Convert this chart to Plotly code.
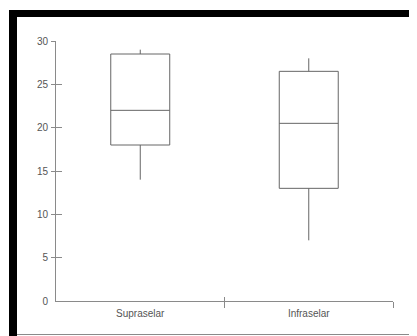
import plotly.graph_objects as go

categories = ["Supraselar", "Infraselar"]
lower_whisker = [14, 7]
q1_values = [18, 13]
median_values = [22, 20.5]
q3_values = [28.5, 26.5]
upper_whisker = [29, 28]
y_ticks = [0, 5, 10, 15, 20, 25, 30]
x_tick_bounds = [0.5, 1.5]

# the page body adds an 8px offset
OFF = 8
W, H = 417 - OFF, 336 - OFF
ml, mr, mt = 56 - OFF, 417 - 393, 41 - OFF
mb = H - (301 - OFF)
pw, ph = W - ml - mr, H - mt - mb

def px_x(p):
    return (p - OFF - ml) / pw

def px_y(p):
    return (H - mb - (p - OFF)) / ph

fig = go.Figure()
fig.add_trace(go.Box(
    x=categories, q1=q1_values, median=median_values, q3=q3_values,
    lowerfence=lower_whisker, upperfence=upper_whisker,
    fillcolor="white", line=dict(color="#666666", width=1),
    whiskerwidth=0, showlegend=False, hoverinfo="skip",
))
# empty helper traces so the overlaid tick-only axes get drawn
for xa, ya in [("x2", "y2"), ("x3", "y3")]:
    fig.add_trace(go.Scatter(x=[None], y=[None], xaxis=xa, yaxis=ya,
                             mode="markers", showlegend=False, hoverinfo="skip"))

axis_color = "#8a8a8a"
font = dict(family="Liberation Sans, Arial, sans-serif", size=10, color="#555555")
tick_only = dict(showticklabels=False, showgrid=False, zeroline=False,
                 showline=False, tickcolor=axis_color, tickwidth=1)

fig.update_layout(
    width=W, height=H,
    margin=dict(l=ml, r=mr, t=mt, b=mb, pad=0),
    paper_bgcolor="white", plot_bgcolor="white",
    boxgap=0.5,
    font=font,
    xaxis=dict(type="category", range=[-0.5, 1.5], categoryorder="array",
               categoryarray=categories, showgrid=False, zeroline=False,
               showline=True, linecolor=axis_color, linewidth=1,
               ticks="", ticklabelstandoff=3, tickfont=font),
    yaxis=dict(range=[0, 30], tickvals=y_ticks, showgrid=False, zeroline=False,
               showline=True, linecolor=axis_color, linewidth=1,
               ticks="", ticklabelstandoff=5, tickfont=font),
    xaxis2=dict(overlaying="x", anchor="y2", side="bottom", range=[-0.5, 1.5],
                tickvals=x_tick_bounds, ticks="inside", ticklen=4, **tick_only),
    xaxis3=dict(overlaying="x", anchor="y3", side="bottom", range=[-0.5, 1.5],
                tickvals=x_tick_bounds, ticks="outside", ticklen=6, **tick_only),
    yaxis2=dict(overlaying="y", anchor="x2", side="left", range=[0, 30],
                tickvals=y_ticks[1:], ticks="inside", ticklen=6, **tick_only),
    yaxis3=dict(overlaying="y", anchor="x3", side="left", range=[0, 30],
                tickvals=y_ticks[1:], ticks="outside", ticklen=4, **tick_only),
    shapes=[
        dict(type="rect", xref="paper", yref="paper",
             x0=px_x(9), x1=px_x(420), y0=px_y(17), y1=px_y(10),
             fillcolor="black", line=dict(width=0), layer="above"),
        dict(type="rect", xref="paper", yref="paper",
             x0=px_x(9), x1=px_x(17), y0=px_y(340), y1=px_y(10),
             fillcolor="black", line=dict(width=0), layer="above"),
        dict(type="line", xref="paper", yref="paper",
             x0=px_x(17), x1=px_x(420), y0=px_y(334.5), y1=px_y(334.5),
             line=dict(color="#8a8a8a", width=1)),
    ],
)

fig.write_html("out.html")
